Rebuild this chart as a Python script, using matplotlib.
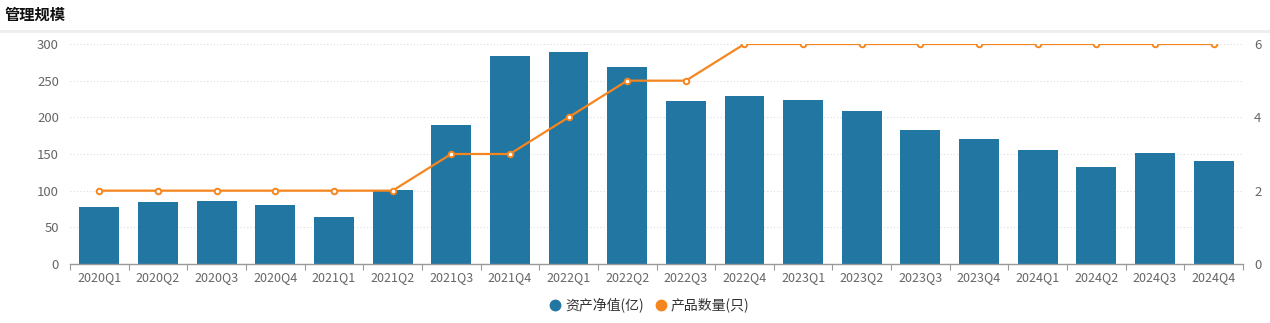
import matplotlib
matplotlib.use("Agg")
import matplotlib.pyplot as plt
from matplotlib.lines import Line2D
import numpy as np

plt.rcParams['font.family'] = ['Noto Sans CJK SC', 'DejaVu Sans']

quarters = ["2020Q1", "2020Q2", "2020Q3", "2020Q4", "2021Q1", "2021Q2", "2021Q3",
            "2021Q4", "2022Q1", "2022Q2", "2022Q3", "2022Q4", "2023Q1", "2023Q2",
            "2023Q3", "2023Q4", "2024Q1", "2024Q2", "2024Q3", "2024Q4"]
net_assets = [78, 84.5, 86, 81, 64.5, 101.5, 189.5, 283.5, 289, 268.5, 222, 229,
              223.5, 208.5, 182.5, 170.5, 155.5, 132, 151, 140.5]
product_count = [2, 2, 2, 2, 2, 2, 3, 3, 4, 5, 5, 6, 6, 6, 6, 6, 6, 6, 6, 6]

bar_color = "#2276a2"
line_color = "#f5861f"
tick_color = "#666666"

fig = plt.figure(figsize=(12.7, 3.23), dpi=100)
ax = fig.add_axes([70 / 1270, 1 - 264 / 323, (1243 - 70) / 1270, 220 / 323])
ax2 = ax.twinx()

x = np.arange(len(quarters))
ax.bar(x, net_assets, width=0.68, color=bar_color, zorder=2)
ax2.plot(x, product_count, color=line_color, lw=1.6, marker="o", ms=4,
         mfc="white", mec=line_color, mew=1.4, zorder=3)

ax.set_xlim(-0.5, len(quarters) - 0.5)
ax.set_ylim(0, 300)
ax2.set_ylim(0, 6)
ax.set_yticks(np.arange(0, 301, 50))
ax2.set_yticks([0, 2, 4, 6])

ax.set_xticks(x)
ax.set_xticklabels(quarters)
ax.set_xticks(np.arange(-0.5, len(quarters), 1), minor=True)
ax.tick_params(axis="x", which="major", length=0, pad=5, labelsize=9, labelcolor=tick_color)
ax.tick_params(axis="x", which="minor", length=4, color="#999999", width=0.8)
ax.tick_params(axis="y", length=0, pad=8, labelsize=9.5, labelcolor=tick_color)
ax2.tick_params(axis="y", length=0, pad=8, labelsize=9.5, labelcolor=tick_color)

ax.grid(axis="y", color="#dddddd", linestyle=(0, (1, 2)), lw=0.8, zorder=0)
for a in (ax, ax2):
    for side in ("top", "left", "right"):
        a.spines[side].set_visible(False)
ax2.spines["bottom"].set_visible(False)
ax.spines["bottom"].set_color("#999999")
ax.spines["bottom"].set_linewidth(1.0)

fig.text(5 / 1270, 1 - 15 / 323, "管理规模", fontsize=11, fontweight="bold",
         color="#111111", va="center", ha="left")
fig.add_artist(Line2D([0, 1], [1 - 31 / 323, 1 - 31 / 323], color="#eeeeee", lw=2,
                      transform=fig.transFigure))

handles = [
    Line2D([], [], ls="", marker="o", ms=7.5, color=bar_color, label="资产净值(亿)"),
    Line2D([], [], ls="", marker="o", ms=7.5, color=line_color, label="产品数量(只)"),
]
fig.legend(handles=handles, loc="center", bbox_to_anchor=(650 / 1270, 1 - 305 / 323), ncol=2,
           frameon=False, fontsize=10, handlelength=0.7, handletextpad=0.35,
           columnspacing=0.9, labelcolor="#333333")

fig.savefig("out.png", dpi=100)
